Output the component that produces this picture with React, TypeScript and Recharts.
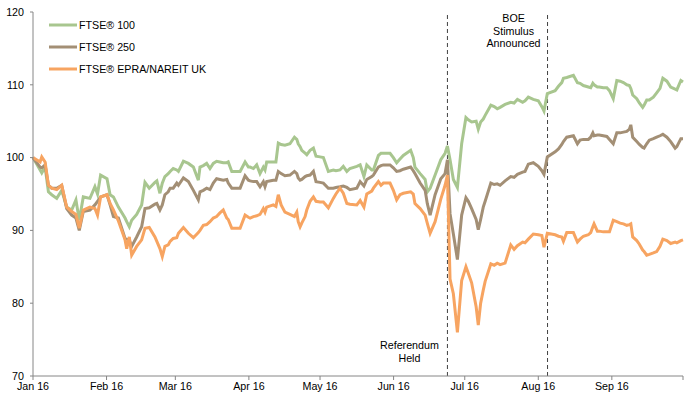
import React from 'react';
import { LineChart, Line, XAxis, YAxis, ReferenceLine } from 'recharts';

// Days since 1 Jan 2016
const days = [
  0, 3.0, 3.7, 5.1, 6.5, 7.9, 10.0, 12.1, 14.2, 16.3,
  18.1, 19.5, 21.2, 24.0, 26.1, 27.2, 28.5, 31.2, 32.5, 33.9,
  36.0, 38.8, 39.5, 40.6, 41.6, 43.7, 45.8, 47.2, 49.0, 51.4,
  52.2, 53.5, 54.5, 55.6, 57.0, 57.8, 59.1, 60.6, 61.3, 63.4,
  65.5, 67.6, 69.7, 70.4, 71.8, 73.2, 74.6, 76.0, 77.4, 78.8,
  80.2, 81.7, 82.3, 83.8, 85.6, 87.3, 89.4, 90.8, 91.5, 92.9,
  94.3, 95.7, 97.1, 97.8, 98.5, 101.3, 102.4, 103.4, 104.6, 106.2,
  108.3, 110.2, 111.2, 111.8, 112.6, 113.3, 114.7, 115.4, 116.8, 118.2,
  119.3, 121.0, 122.4, 124.5, 126.6, 127.7, 129.4, 130.8, 132.3,
  133.6, 136.5, 137.9, 139.5, 140.7, 142.8, 143.5, 145.6, 146.7, 147.7,
  150.5, 151.9, 153.3, 154.7, 156.1, 159.2, 160.3, 161.0, 163.2, 165.3,
  166.2, 167.4, 169.5, 171.9, 173.7, 174.7, 175.8, 177.2, 178.9, 180.7,
  182.5, 183.5, 184.9, 186.8, 187.7, 188.7, 189.8, 190.6, 193.0, 194.4,
  195.7, 196.9, 199.0, 201.4, 202.8, 204.2, 206.4, 207.4, 208.8, 210.9,
  213.0, 214.5, 215.4, 216.8, 220.1, 221.5, 222.9, 223.6, 225.0, 227.8,
  229.5, 230.6, 232.0, 234.1, 235.1, 236.0, 236.5, 237.9, 238.7, 240.4,
  241.9, 243.0, 244.6, 246.1, 247.5, 248.9, 250.3, 251.4, 252.0, 252.8,
  254.5, 255.6, 257.0, 257.6, 258.7, 259.8, 261.5, 262.9, 264.3, 265.5,
  267.2, 268.8, 270.7, 271.4, 273.1, 274,
];

const ftse100 = [
  100, 98.3, 97.9, 98.7, 95.3, 94.9, 94.4, 95.5, 93.2, 92.8,
  94.2, 91.4, 94.6, 94.4, 96.0, 95.0, 97.6, 97.1, 94.9, 94.6,
  93.2, 91.7, 91.2, 90.5, 91.4, 92.2, 93.5, 96.6, 95.8, 96.6,
  96.8, 95.1, 96.5, 97.4, 97.8, 98.1, 98.5, 98.3, 98.1, 99.5,
  99.2, 98.7, 96.9, 98.7, 98.9, 99.2, 98.5, 99.2, 99.5, 99.4,
  99.3, 99.3, 99.4, 98.1, 98.1, 98.1, 99.4, 98.7, 98.7, 98.5,
  99.0, 97.8, 98.7, 98.3, 99.4, 99.4, 99.4, 102.0, 101.8, 101.7,
  101.9, 102.8, 102.5, 101.9, 101.5, 101.0, 100.6, 100.4, 101.0, 101.3,
  100.2, 100.1, 100.0, 98.1, 98.3, 98.2, 98.3, 98.8, 98.1,
  98.5, 98.8, 99.0, 97.4, 99.0, 98.3, 98.3, 100.3, 100.6, 100.6,
  100.6, 100.0, 99.3, 99.8, 100.3, 101.0, 100.0, 98.7, 97.8, 97.0,
  95.3, 95.8, 97.6, 99.7, 100.6, 101.6, 99.7, 97.0, 95.9, 101.9,
  105.5, 105.2, 104.9, 105.0, 103.9, 104.9, 105.3, 105.8, 107.2, 107.0,
  106.7, 106.9, 107.3, 107.6, 107.5, 108.0, 107.6, 107.8, 108.3, 108.0,
  107.8, 107.0, 106.4, 108.8, 109.2, 109.8, 110.3, 110.9, 111.0, 111.3,
  110.3, 110.2, 109.9, 109.7, 109.6, 110.2, 110.0, 109.7, 109.7, 109.6,
  109.6, 109.2, 108.1, 110.6, 110.5, 110.3, 110.0, 109.9, 109.5, 108.6,
  108.1, 107.5, 106.9, 107.2, 107.9, 107.9, 108.3, 108.9, 109.5, 110.9,
  110.5, 109.7, 109.4, 109.3, 110.6, 110.4,
];

const ftse250 = [
  100, 98.7, 98.6, 99.0, 96.2, 95.8, 95.8, 96.2, 93.0, 92.1,
  91.7, 90.0, 92.6, 92.8, 93.5, 94.0, 94.6, 94.9, 93.5, 91.9,
  91.7, 88.9, 88.8, 88.7, 87.8, 89.1, 90.5, 93.0, 93.1, 93.6,
  93.7, 92.8, 93.5, 94.9, 95.3, 95.8, 95.8, 96.5, 96.2, 97.2,
  96.7, 95.5, 94.2, 95.3, 95.5, 95.8, 95.6, 96.5, 97.1, 97.0,
  96.9, 97.0, 96.5, 95.8, 95.8, 95.8, 97.5, 96.9, 96.8, 96.7,
  96.7, 96.0, 96.7, 96.0, 96.7, 96.9, 96.9, 98.1, 97.8, 97.5,
  97.6, 98.1, 97.8, 97.2, 96.9, 97.0, 97.4, 97.5, 97.6, 98.1,
  96.7, 96.6, 96.5, 95.8, 95.8, 95.9, 96.0, 96.1, 95.9,
  95.6, 95.8, 96.7, 96.1, 97.0, 97.4, 97.6, 98.7, 98.9, 99.0,
  99.0, 98.6, 98.1, 98.2, 98.4, 98.7, 98.2, 97.8, 96.5, 95.5,
  93.7, 92.1, 94.9, 97.1, 97.8, 99.7, 92.3, 89.5, 86.0, 92.1,
  94.5, 94.0, 93.0, 91.5, 90.1, 91.5, 93.2, 94.0, 96.5, 96.3,
  96.4, 96.2, 96.8, 97.4, 97.3, 97.7, 98.0, 98.1, 99.1, 99.3,
  98.8, 98.2, 97.7, 100.1, 100.8, 101.2, 101.8, 102.2, 102.8, 103.0,
  101.9, 102.4, 102.5, 102.5, 102.8, 103.4, 103.0, 103.1, 103.1, 103.0,
  102.9, 102.5, 101.9, 103.4, 103.4, 103.5, 103.6, 103.9, 104.5, 102.8,
  102.2, 101.8, 101.4, 101.3, 101.9, 102.4, 102.6, 102.8, 103.0, 103.2,
  102.8, 102.2, 101.3, 101.5, 102.6, 102.6,
];

const epraNareitUk = [
  100, 99.4, 100.1, 99.4, 96.2, 95.8, 95.6, 96.2, 93.2, 92.6,
  92.2, 90.3, 92.8, 93.2, 93.0, 92.1, 94.6, 94.9, 93.7, 92.8,
  91.3, 88.7, 87.5, 89.1, 86.6, 87.8, 88.7, 90.3, 90.4, 89.1,
  88.5, 87.5, 86.4, 87.8, 88.0, 88.5, 88.9, 89.0, 89.6, 90.4,
  89.6, 89.0, 89.7, 90.0, 90.7, 90.8, 91.2, 91.7, 91.9, 92.4,
  92.8, 91.7, 91.5, 90.3, 90.3, 90.3, 92.1, 91.8, 91.7, 91.9,
  92.0, 92.2, 93.0, 92.5, 93.2, 93.5, 93.3, 94.9, 93.5, 92.5,
  92.2, 91.9, 92.5, 91.2, 90.5, 91.0, 91.9, 92.8, 94.0, 94.6,
  94.0, 93.9, 93.9, 93.1, 94.4, 95.0, 95.8, 95.1, 93.7,
  93.6, 93.5, 94.1, 93.2, 95.0, 95.4, 95.8, 96.7, 96.2, 96.5,
  96.5, 95.5, 94.2, 94.9, 95.1, 95.3, 95.0, 93.7, 93.0, 92.1,
  91.0, 89.6, 91.2, 94.3, 96.2, 97.6, 83.3, 81.3, 76.0, 83.1,
  85.0, 84.1, 82.8, 79.5, 77.0, 80.0, 81.8, 83.0, 85.4, 85.2,
  85.5, 85.3, 85.5, 88.0, 87.4, 87.9, 88.4, 88.3, 88.8, 89.5,
  89.4, 89.3, 87.7, 89.6, 89.4, 89.2, 89.1, 88.5, 89.7, 89.7,
  88.4, 88.8, 89.2, 89.4, 89.7, 90.5, 90.9, 89.9, 89.9, 89.8,
  89.8, 89.8, 91.4, 91.2, 91.0, 90.9, 90.7, 90.8, 90.9, 89.1,
  88.6, 88.1, 87.3, 87.1, 86.6, 86.7, 86.9, 87.1, 87.8, 88.8,
  88.6, 88.2, 88.4, 88.3, 88.6, 88.7,
];

const monthTicks = [0, 31, 60, 91, 121, 152, 182, 213, 244, 274];
const monthLabels = ['Jan 16', 'Feb 16', 'Mar 16', 'Apr 16', 'May 16', 'Jun 16', 'Jul 16', 'Aug 16', 'Sep 16', ''];
const yTicks = [70, 80, 90, 100, 110, 120];

const seriesKeys = ['ftse100', 'ftse250', 'epra'];
const seriesNames = ['FTSE® 100', 'FTSE® 250', 'FTSE® EPRA/NAREIT UK'];
const seriesColors = ['#A8C68F', '#A38F75', '#F7A461'];

const eventDays = [174.7, 216.9];
const eventLabels = [['Referendum', 'Held'], ['BOE', 'Stimulus', 'Announced']];

const data = days.map((d, i) => ({
  d,
  ftse100: ftse100[i],
  ftse250: ftse250[i],
  epra: epraNareitUk[i],
}));

const FONT = '"Liberation Sans", Arial, sans-serif';
const FS = 10.7;
const AXIS = '#868686';

const referendumLabel = (props: any) => {
  const vb = props.viewBox;
  const bottom = vb.y + vb.height;
  return (
    <g>
      {eventLabels[0].map((t, i) => (
        <text key={t} x={vb.x - 38} y={bottom - 31 + i * 13} textAnchor="middle" dominantBaseline="central"
          fontFamily={FONT} fontSize={FS} fill="#000">{t}</text>
      ))}
    </g>
  );
};

const boeLabel = (props: any) => {
  const vb = props.viewBox;
  return (
    <g>
      {eventLabels[1].map((t, i) => (
        <text key={t} x={vb.x - 34} y={vb.y + 6 + i * 12.7} textAnchor="middle" dominantBaseline="central"
          fontFamily={FONT} fontSize={FS} fill="#000">{t}</text>
      ))}
    </g>
  );
};

export default function App() {
  return (
    <div style={{ position: 'absolute', left: 0, top: 0, width: 697, height: 398, background: '#fff' }}>
      <LineChart width={697} height={398} data={data} margin={{ top: 12, right: 14, bottom: 0, left: 5 }}>
        <XAxis
          type="number"
          dataKey="d"
          domain={[0, 274]}
          ticks={monthTicks}
          interval={0}
          tickFormatter={(v: number) => monthLabels[monthTicks.indexOf(v)] ?? ''}
          height={22}
          tickSize={4}
          tickMargin={2}
          stroke={AXIS}
          tick={{ fill: '#000', fontFamily: FONT, fontSize: FS }}
        />
        <YAxis
          type="number"
          domain={[70, 120]}
          ticks={yTicks}
          interval={0}
          width={28}
          tickSize={3}
          tickMargin={6}
          stroke={AXIS}
          tick={{ fill: '#000', fontFamily: FONT, fontSize: FS }}
        />
        <ReferenceLine x={eventDays[0]} stroke="#404040" strokeDasharray="4 3" strokeWidth={1} label={referendumLabel} />
        <ReferenceLine x={eventDays[1]} stroke="#404040" strokeDasharray="4 3" strokeWidth={1} label={boeLabel} />
        {seriesKeys.map((k, i) => (
          <Line
            key={k}
            type="linear"
            dataKey={k}
            name={seriesNames[i]}
            stroke={seriesColors[i]}
            strokeWidth={3}
            dot={false}
            activeDot={false}
            isAnimationActive={false}
          />
        ))}
      </LineChart>
      <div style={{ position: 'absolute', top: 14, left: 48, fontFamily: FONT, fontSize: FS, color: '#000' }}>
        {seriesNames.map((n, i) => (
          <div key={n} style={{ display: 'flex', alignItems: 'center', height: 22 }}>
            <svg width={30} height={22} style={{ display: 'block' }}>
              <line x1={1} x2={29} y1={11} y2={11} stroke={seriesColors[i]} strokeWidth={3} />
            </svg>
            <span style={{ marginLeft: 1, whiteSpace: 'nowrap' }}>{n}</span>
          </div>
        ))}
      </div>
    </div>
  );
}
